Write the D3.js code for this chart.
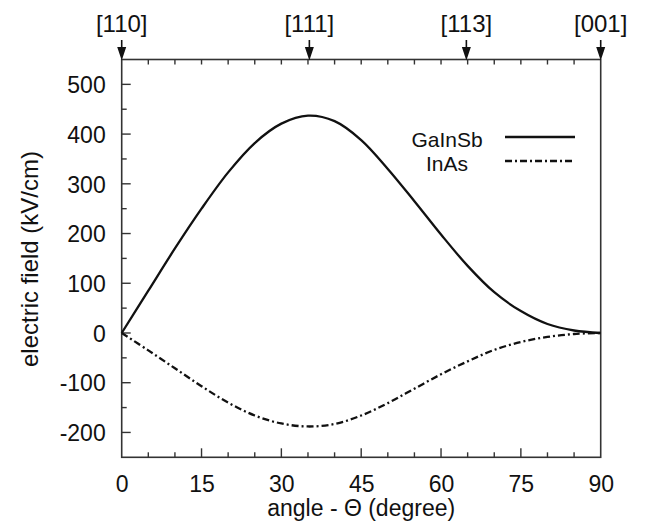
<!DOCTYPE html>
<html>
<head>
<meta charset="utf-8">
<script src="https://cdn.jsdelivr.net/npm/d3@7"></script>
<style>
  html, body { margin: 0; padding: 0; background: #fff; }
  svg { display: block; font-family: "Liberation Sans", Arial, Helvetica, sans-serif; }
</style>
</head>
<body>
<svg id="chart" width="655" height="526"></svg>
<script>
// ---- data ----
const angles = [0, 5, 10, 15, 20, 25, 30, 35, 40, 45, 50, 55, 60, 65, 70, 75, 80, 85, 90];
const gainsb = [0, 85, 170, 250, 323, 382, 421, 437, 426, 388, 330, 265, 198, 135, 82, 44, 18, 5, 0];
const inas   = [0, -35, -71, -107, -140, -166, -182, -188, -183, -166, -141, -112, -83, -57, -34, -18, -8, -2, 0];
const seriesNames = ["GaInSb", "InAs"];
const directionLabels = ["[110]", "[111]", "[113]", "[001]"];
const directionAngles = [0, 35.26, 64.76, 90];
const xTicks = [0, 15, 30, 45, 60, 75, 90];
const yTicks = [-200, -100, 0, 100, 200, 300, 400, 500];

// ---- layout ----
const svg = d3.select("#chart");
const L = 121.7, R = 600.7, T = 59.5, B = 457.3;
const x = d3.scaleLinear().domain([0, 90]).range([L, R]);
const y = d3.scaleLinear().domain([-250, 550]).range([B, T]);
const axisColor = "#333";

// frame
svg.append("rect").attr("x", L).attr("y", T).attr("width", R - L).attr("height", B - T)
  .attr("fill", "none").attr("stroke", axisColor).attr("stroke-width", 1.6);

// minor/major ticks
const g = svg.append("g").attr("stroke", axisColor).attr("stroke-width", 1.4);
d3.range(0, 91, 5).forEach(v => {
  if (v === 0 || v === 90) return;
  const len = (v % 15 === 0) ? 9 : 5;
  g.append("line").attr("x1", x(v)).attr("x2", x(v)).attr("y1", B).attr("y2", B - len);
  g.append("line").attr("x1", x(v)).attr("x2", x(v)).attr("y1", T).attr("y2", T + 5);
});
d3.range(-200, 551, 50).forEach(v => {
  if (v === 550) return;
  const len = (v % 100 === 0) ? 9 : 5;
  g.append("line").attr("x1", L).attr("x2", L + len).attr("y1", y(v)).attr("y2", y(v));
});

// tick labels via axes (domain/ticks hidden)
const fmt = d => String(d);
const xAxis = d3.axisBottom(x).tickValues(xTicks).tickFormat(fmt).tickSize(0).tickPadding(0);
const gx = svg.append("g").attr("transform", `translate(0,${B})`).call(xAxis);
gx.select(".domain").remove();
gx.selectAll("text").attr("font-size", 23).attr("fill", "#111")
  .attr("dy", null).attr("y", 35).attr("font-family", "Liberation Sans, Arial, sans-serif");

const yAxis = d3.axisLeft(y).tickValues(yTicks).tickFormat(fmt).tickSize(0).tickPadding(0);
const gy = svg.append("g").attr("transform", `translate(${L},0)`).call(yAxis);
gy.select(".domain").remove();
gy.selectAll("text").attr("font-size", 23).attr("fill", "#111")
  .attr("x", -16).attr("dy", "0.36em").attr("font-family", "Liberation Sans, Arial, sans-serif");

// axis titles
svg.append("text").attr("x", (L + R) / 2).attr("y", 516).attr("text-anchor", "middle")
  .attr("font-size", 23).attr("fill", "#111").text("angle - \u0398 (degree)");
svg.append("text").attr("transform", `translate(38,259) rotate(-90)`).attr("text-anchor", "middle")
  .attr("font-size", 24).attr("fill", "#111").text("electric field (kV/cm)");

// direction arrows on top axis
directionAngles.forEach((a, i) => {
  const cx = x(a);
  svg.append("line").attr("x1", cx).attr("x2", cx).attr("y1", 40).attr("y2", 50)
    .attr("stroke", "#111").attr("stroke-width", 1.6);
  svg.append("path").attr("d", `M${cx - 4.5},47 L${cx + 4.5},47 L${cx},${T + 1} Z`).attr("fill", "#111");
  svg.append("text").attr("x", cx).attr("y", 32).attr("text-anchor", "middle")
    .attr("font-size", 24).attr("fill", "#111").text(directionLabels[i]);
});

// curves
const line = d3.line().x(d => x(d[0])).y(d => y(d[1])).curve(d3.curveCatmullRom.alpha(0.5));
const series = [gainsb, inas];
const dashes = [null, "7,3,2,3"];
series.forEach((vals, i) => {
  svg.append("path").datum(angles.map((a, j) => [a, vals[j]]))
    .attr("d", line).attr("fill", "none").attr("stroke", "#111")
    .attr("stroke-width", 2.3).attr("stroke-dasharray", dashes[i]);
});

// legend
const legY = [139, 163];
seriesNames.forEach((n, i) => {
  svg.append("text").attr("x", 447).attr("y", legY[i]).attr("dy", "0.36em")
    .attr("text-anchor", "middle").attr("font-size", 21).attr("fill", "#111").text(n);
  svg.append("line").attr("x1", 505).attr("x2", 575).attr("y1", legY[i] - 2).attr("y2", legY[i] - 2)
    .attr("stroke", "#111").attr("stroke-width", 2.3).attr("stroke-dasharray", dashes[i]);
});
</script>
</body>
</html>
